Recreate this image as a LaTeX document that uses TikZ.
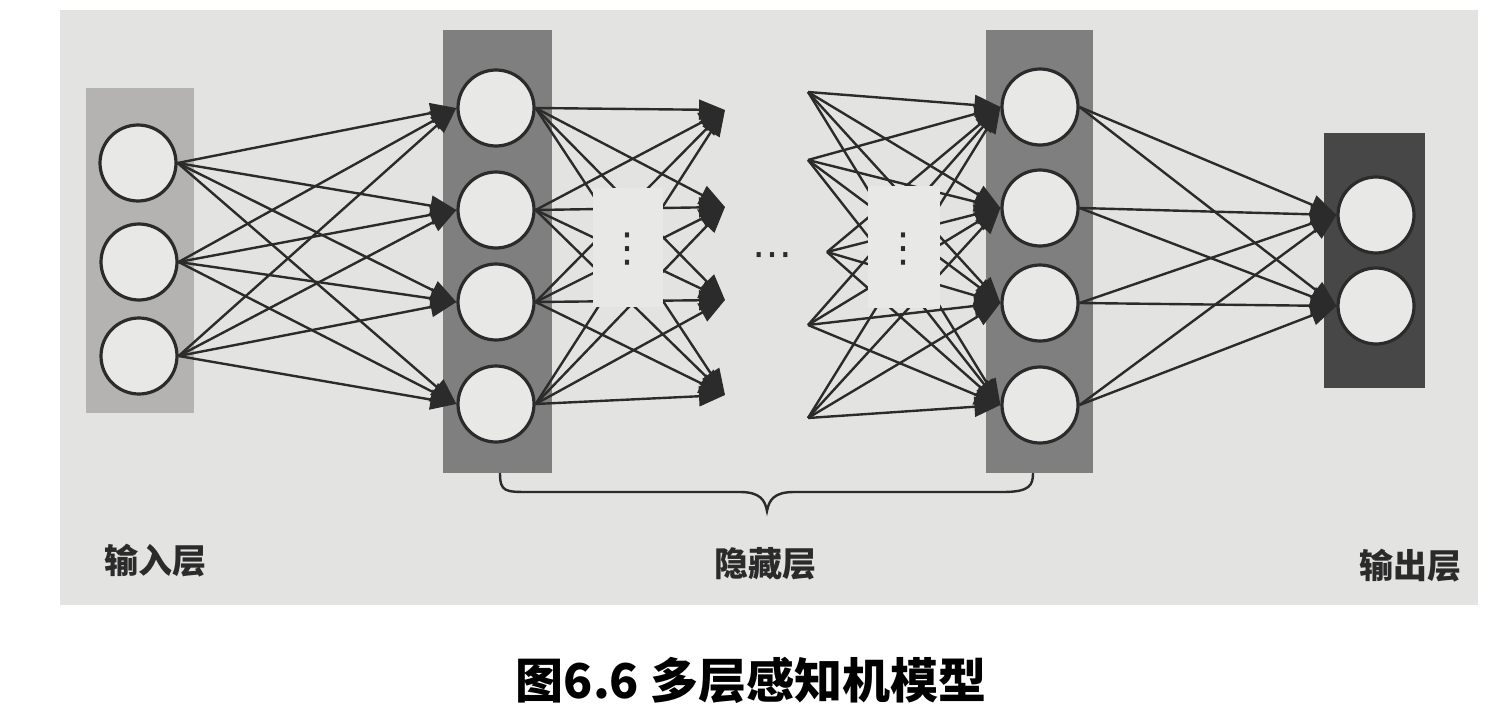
\documentclass[tikz,border=0pt]{standalone}
\usepackage{fontspec}
\usepackage{tikz}
\usetikzlibrary{arrows.meta}
\newfontfamily\cjk{Noto Sans CJK SC}
\newfontfamily\symb{DejaVu Sans}
\definecolor{paper}{HTML}{E3E3E1}
\definecolor{maskgray}{HTML}{E8E8E6}
\definecolor{inlayer}{HTML}{B4B3B2}
\definecolor{hidlayer}{HTML}{7F7F7F}
\definecolor{outlayer}{HTML}{474747}
\definecolor{ink}{HTML}{2B2B2B}
\tikzset{
  neuron/.style={circle, draw=ink, line width=1.6pt, fill=maskgray, minimum size=38pt, inner sep=0pt},
  link/.style={draw=ink, line width=1.2pt, -{Triangle[length=13pt,width=10pt]}},
  layername/.style={font=\cjk\bfseries\fontsize{17}{20}\selectfont, text=ink},
  dots/.style={font=\symb\fontsize{20}{22}\selectfont, text=ink, inner sep=0pt}
}

\begin{document}
\begin{tikzpicture}[x=0.5pt, y=-0.5pt]
  \useasboundingbox (0, 0) rectangle (1508, 717);
  \fill[white] (0, 0) rectangle (1508, 717);
  \fill[paper] (60, 10) rectangle (1478, 605);
  % layer boxes
  \fill[inlayer]  (86, 88)    rectangle (194, 413);
  \fill[hidlayer] (443, 30)   rectangle (552, 473);
  \fill[hidlayer] (986, 30)   rectangle (1093, 473);
  \fill[outlayer] (1324, 133) rectangle (1425, 388);
  % neurons
  \node[neuron] (in1) at (138, 163) {};
  \node[neuron] (in2) at (139, 262) {};
  \node[neuron] (in3) at (139, 356) {};
  \node[neuron] (h1) at (496, 108) {};
  \node[neuron] (h2) at (496, 210) {};
  \node[neuron] (h3) at (496, 302) {};
  \node[neuron] (h4) at (496, 404) {};
  \node[neuron] (g1) at (1040, 107) {};
  \node[neuron] (g2) at (1040, 208) {};
  \node[neuron] (g3) at (1040, 303) {};
  \node[neuron] (g4) at (1040, 405) {};
  \node[neuron] (o1) at (1376, 215) {};
  \node[neuron] (o2) at (1376, 306) {};
  % loose ends in the middle
  \coordinate (m1) at (725, 110);
  \coordinate (m2) at (725, 207);
  \coordinate (m3) at (725, 300);
  \coordinate (m4) at (725, 395);
  \coordinate (s1) at (808, 92);
  \coordinate (s2) at (808, 160);
  \coordinate (s3) at (827, 252);
  \coordinate (s4) at (808, 325);
  \coordinate (s5) at (808, 418);
  \foreach \i in {1,2,3}
    \foreach \j in {1,...,4}
      \draw[link] (in\i.east) -- (h\j.west);
  \foreach \i in {1,...,4}
    \foreach \j in {1,...,4}
      \draw[link] (h\i.east) -- (m\j);
  \foreach \i in {1,...,5}
    \foreach \j in {1,...,4}
      \draw[link] (s\i) -- (g\j.west);
  \foreach \i in {1,...,4}
    \foreach \j in {1,2}
      \draw[link] (g\i.east) -- (o\j.west);
  % gaps with dots
  \fill[maskgray] (593, 188) rectangle (663, 307);
  \fill[maskgray] (868, 186) rectangle (940, 308);
  \node[dots] (vd1) at (627, 249) {⋮};
  \node[dots] (vd2) at (903, 249) {⋮};
  \node[dots] (hd) at (772, 260) {⋯};
  % brace under the hidden layers
  \draw[ink, line width=1.2pt] (500, 473) .. controls (500, 492) and (505, 492) .. (530, 492)
    -- (740, 492) .. controls (760, 492) and (765, 500) .. (767, 511)
    .. controls (769, 500) and (774, 492) .. (794, 492)
    -- (1003, 492) .. controls (1030, 492) and (1033, 485) .. (1033, 473);
  \node[layername] (inname)  at (155, 561) {输入层};
  \node[layername] (hidname) at (765, 564) {隐藏层};
  \node[layername] (outname) at (1410, 566) {输出层};
  \node[font=\cjk\bfseries\fontsize{24}{28}\selectfont] (caption) at (751, 680) {图6.6 多层感知机模型};
\end{tikzpicture}
\end{document}
